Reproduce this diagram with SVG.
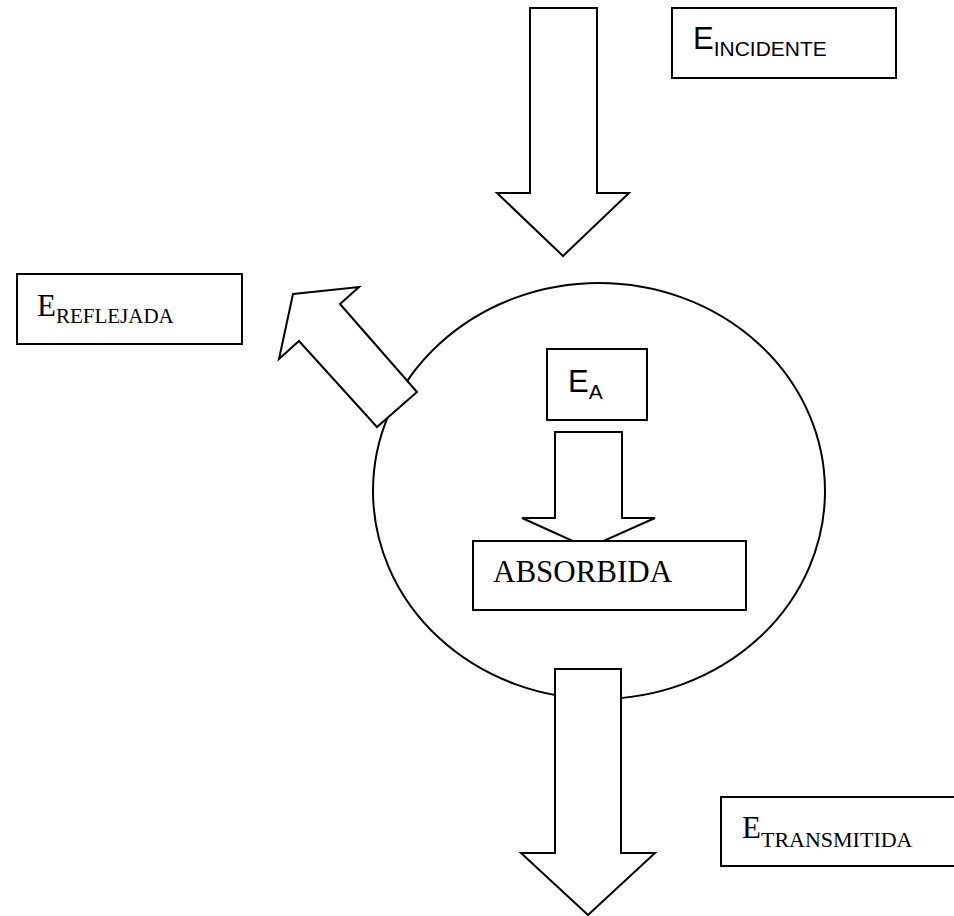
<svg xmlns="http://www.w3.org/2000/svg" width="954" height="916" viewBox="0 0 954 916">
  <style>
    .shape { fill: #ffffff; stroke: #000000; stroke-width: 2; stroke-linejoin: miter; }
    .sans { font-family: "Liberation Sans", Arial, sans-serif; fill: #000000; }
    .serif { font-family: "Liberation Serif", "Times New Roman", serif; fill: #000000; }
    .big { font-size: 31px; }
    .sub { font-size: 21px; }
  </style>
  <rect width="954" height="916" fill="#ffffff"/>

  <!-- body that receives the energy -->
  <g id="body">
    <ellipse class="shape" cx="599" cy="491" rx="226" ry="208"/>
  </g>

  <!-- block arrows -->
  <g id="connectors">
    <polygon id="arrow-incident" class="shape" points="530,8 597,8 597,193 629,193 563,256 497,193 530,193"/>
    <polygon id="arrow-reflected" class="shape" points="293,294 359,287 340,304 417,392 377,427 299,341 279,359"/>
    <polygon id="arrow-absorbed" class="shape" points="555,432 622,432 622,518 655,518 588,548 522,518 555,518"/>
    <polygon id="arrow-transmitted" class="shape" points="555,669 621,669 621,853 655,853 588,915 521,853 555,853"/>
  </g>

  <g id="label-incidente">
    <rect class="shape" x="672" y="8" width="224" height="70"/>
    <text class="sans" x="693" y="49"><tspan class="big">E</tspan><tspan class="sub" y="56">INCIDENTE</tspan></text>
  </g>

  <g id="label-reflejada">
    <rect class="shape" x="17" y="274" width="225" height="70"/>
    <text class="serif" x="37" y="316"><tspan class="big">E</tspan><tspan class="sub" y="323">REFLEJADA</tspan></text>
  </g>

  <g id="label-ea">
    <rect class="shape" x="547" y="349" width="100" height="71"/>
    <text class="sans" x="568" y="392"><tspan class="big">E</tspan><tspan class="sub" y="399">A</tspan></text>
  </g>

  <g id="label-absorbida">
    <rect class="shape" x="473" y="541" width="273" height="69"/>
    <text class="serif big" x="493" y="582">ABSORBIDA</text>
  </g>

  <g id="label-transmitida">
    <rect class="shape" x="721" y="797" width="250" height="69"/>
    <text class="serif" x="742" y="838"><tspan class="big">E</tspan><tspan class="sub" y="847" style="font-size:22px">TRANSMITIDA</tspan></text>
  </g>
</svg>
